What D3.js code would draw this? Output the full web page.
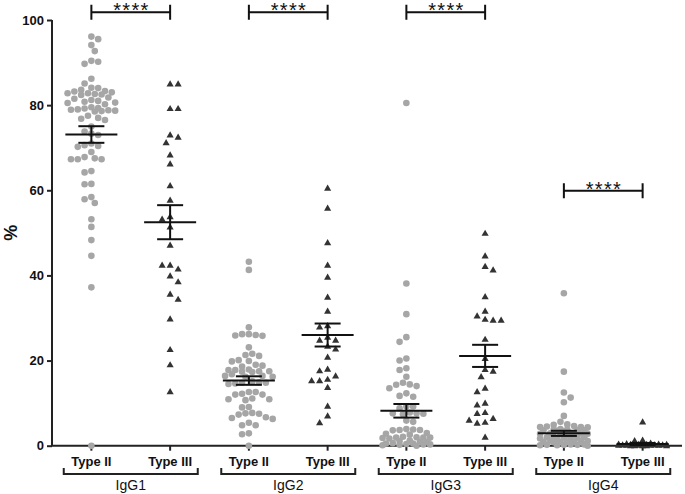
<!DOCTYPE html>
<html>
<head>
<meta charset="utf-8">
<script src="https://cdn.jsdelivr.net/npm/d3@7"></script>
<style>
body{margin:0;background:#fff;}
text{font-family:"Liberation Sans",Arial,sans-serif;}
</style>
</head>
<body>
<div id="chart"></div>
<script>
// groups, left to right
var subclasses = ["IgG1","IgG2","IgG3","IgG4"];
var types = ["Type II","Type III"];

var igg1TypeII = [96.1,95.5,94.1,92.7,90.4,90.2,89.7,86.2,85.1,
  84.0,83.6,83.3,83.0,82.8,82.6,82.5,82.4,82.8,83.2,84.1,
  81.5,81.0,80.8,80.5,81.8,80.2,81.2,80.6,
  79.5,79.2,79.0,78.8,78.6,78.9,78.5,79.3,78.7,
  77.5,77.0,76.8,76.5,75.0,73.8,73.3,73.0,
  71.0,70.6,70.4,70.2,69.0,67.8,67.5,67.3,67.3,67.3,
  64.5,64.2,61.5,61.4,58.4,57.9,57.0,53.2,51.4,48.3,44.6,37.2,0];
var igg1TypeIII = [85.0,85.0,79.2,79.2,73.0,72.5,71.2,68.3,66.2,61.1,57.7,53.8,53.2,
  51.4,47.1,42.4,42.4,41.5,39.9,38.5,35.6,34.4,29.8,22.6,19.0,12.7];
var igg2TypeII = [43.2,41.3,27.8,26.2,26.0,25.8,25.9,26.2,23.1,21.1,21.3,21.6,19.9,20.1,19.8,
  18.8,19.0,18.6,17.5,17.3,17.8,17.8,17.5,17.9,17.4,16.4,16.2,16.4,16.8,16.2,
  15.1,14.8,14.9,14.6,14.8,14.5,12.6,12.2,12.0,12.0,12.6,10.9,10.7,11.1,10.9,
  9.1,9.0,7.7,7.5,7.3,7.6,6.5,6.7,6.3,4.8,4.8,5.4,2.9,2.7,0];
var igg2TypeIII = [60.5,55.8,47.7,42.4,39.6,34.9,31.6,28.2,27.9,24.8,24.8,25.5,23.4,22.7,
  20.8,17.6,18.0,15.3,16.4,15.3,15.6,13.7,9.3,5.4,7.0];
var igg3TypeII = [80.5,38.1,30.9,25.5,24.4,20.5,20.0,18.2,17.8,16.2,14.8,14.3,13.5,14.0,14.4,
  11.5,11.7,12.3,9.2,8.8,9.2,7.6,7.6,7.4,7.8,7.5,5.6,5.9,3.7,3.8,3.6,3.7,3.9,
  2.8,2.6,3.0,1.9,2.0,1.8,1.9,2.1,1.7,1.9,1.2,1.0,0.9,1.1,
  0.4,0.3,0.5,0.6,0.2,0.1,0.0,0.5,0.3];
var igg3TypeIII = [49.9,44.6,42.1,41.3,35.0,30.5,29.5,29.5,29.7,31.6,25.0,20.5,17.9,17.5,16.2,
  13.5,12.7,10.0,9.6,7.8,7.6,6.4,5.5,5.3,6.0,2.0];
var igg4TypeII = [35.8,17.4,12.5,11.3,10.2,7.0,5.6,
  4.9,4.6,4.4,4.3,4.5,4.4,5.0,
  3.8,3.6,3.7,3.5,3.9,3.6,3.8,3.4,
  2.8,2.6,2.9,2.7,3.0,2.8,2.5,2.9,
  1.9,2.0,1.8,1.7,2.1,1.9,1.6,2.0,
  1.0,1.1,0.9,1.2,0.8,1.0,1.1,0.9,
  0.2,0.3,0.1,0.2,0.0,0.3,0.1,0.2];
var igg4TypeIII = [5.6,1.3,1.2,0.5,0.4,0.3,0.3,0.2,0.2,0.1,0.1,0.0,0.0,0.0,0.6,0.4,0.3,0.2,
  0.1,0.0,0.2,0.1,0.3,0.0,0.1,0.2];

var groupValues = [igg1TypeII,igg1TypeIII,igg2TypeII,igg2TypeIII,igg3TypeII,igg3TypeIII,igg4TypeII,igg4TypeIII];
// mean and SEM
var groupMeans = [73.1,52.5,15.3,26.0,8.2,21.1,2.9,0.4];
var groupSEM = [1.95,4.0,1.0,2.7,1.6,2.6,0.6,0.25];

var yTicks = [0,20,40,60,80,100];
// significance bars: subclass index, height (%), label
var sigSubclass = [0,1,2,3];
var sigLevels = [101.8,101.8,101.8,59.9];
var sigLabel = "****";

var W = 685, H = 494;
var svg = d3.select("#chart").append("svg").attr("width",W).attr("height",H);

var cats = [];
subclasses.forEach(function(s){ types.forEach(function(t){ cats.push(s+"|"+t); }); });

var x = d3.scaleBand().domain(cats).range([52,682]).padding(0);
var y = d3.scaleLinear().domain([0,100]).range([445.7,20]);

// y axis
var yAxis = svg.append("g").attr("transform","translate(52,0)")
  .call(d3.axisLeft(y).tickValues(yTicks).tickSize(5).tickPadding(3));
yAxis.select(".domain").attr("stroke","#222").attr("stroke-width",2).attr("d","M0,"+y(100)+"V"+y(0));
yAxis.selectAll(".tick line").attr("stroke","#222").attr("stroke-width",2);
yAxis.selectAll(".tick text").attr("font-size",13).attr("font-weight","bold").attr("fill","#111");

// x axis
var xAxis = svg.append("g").attr("transform","translate(0,"+y(0)+")")
  .call(d3.axisBottom(x).tickSize(5).tickFormat(""));
xAxis.select(".domain").attr("stroke","#222").attr("stroke-width",2).attr("d","M51,0H682");
xAxis.selectAll(".tick line").attr("stroke","#222").attr("stroke-width",2);

svg.selectAll("text.typelab").data(cats).enter().append("text")
  .attr("class","typelab")
  .attr("x",function(d){ return x(d)+x.bandwidth()/2; })
  .attr("y",466)
  .attr("text-anchor","middle").attr("font-size",13).attr("font-weight","bold").attr("fill","#111")
  .text(function(d){ return d.split("|")[1]; });

// brackets under each subclass
var brk = svg.selectAll("g.brk").data(subclasses).enter().append("g").attr("class","brk");
brk.append("path")
  .attr("d",function(s){
    var c = (x(s+"|Type II") + x(s+"|Type III") + x.bandwidth())/2;
    return "M"+(c-67)+",468V474H"+(c+67)+"V468";
  })
  .attr("fill","none").attr("stroke","#222").attr("stroke-width",2);
brk.append("text")
  .attr("x",function(s){ return (x(s+"|Type II") + x(s+"|Type III") + x.bandwidth())/2; })
  .attr("y",490)
  .attr("text-anchor","middle").attr("font-size",14).attr("fill","#111")
  .text(function(s){ return s; });

// y label
svg.append("text")
  .attr("transform","translate(17,"+y(50)+") rotate(-90)")
  .attr("text-anchor","middle").attr("font-size",18).attr("font-weight","bold").attr("fill","#111")
  .text("%");

// beeswarm for the scatter dots, capped width (overlap allowed when full)
function swarm(vals, cx, d){
  var step = d/2, maxOff = 26, pts = [];
  var sorted = vals.slice().sort(function(a,b){ return b-a; });
  sorted.forEach(function(v,i){
    var py = y(v), best = 0, bestScore = -1;
    for(var k=0;;k++){
      var off = Math.ceil(k/2)*step*(k%2==0?1:-1)*(i%2?-1:1);
      if(Math.abs(off) > maxOff) break;
      var md = Infinity;
      pts.forEach(function(p){ var dx=p.x-(cx+off), dy=p.y-py; md = Math.min(md, Math.sqrt(dx*dx+dy*dy)); });
      if(md >= d){ best = off; break; }
      if(md > bestScore){ bestScore = md; best = off; }
    }
    pts.push({x:cx+best,y:py,v:v});
  });
  return pts;
}

var tri = d3.symbol().type(d3.symbolTriangle).size(22);

groupValues.forEach(function(vals,gi){
  var cx = x(cats[gi]) + x.bandwidth()/2;
  if(gi%2==0){
    var pts = swarm(vals,cx,6.8);
    svg.append("g").selectAll("circle").data(pts).enter().append("circle")
      .attr("cx",function(d){ return d.x; }).attr("cy",function(d){ return d.y; })
      .attr("r",3.3).attr("fill","#a6a6a6");
  } else {
    var pts = swarm(vals,cx,8);
    svg.append("g").selectAll("path").data(pts).enter().append("path")
      .attr("d",tri)
      .attr("transform",function(d){ return "translate("+d.x+","+(d.y+0.5)+")"; })
      .attr("fill","#333");
  }
});

// mean +- SEM
var ms = svg.append("g").attr("stroke","#111").attr("stroke-width",2).attr("fill","none");
groupMeans.forEach(function(m,gi){
  var cx = x(cats[gi]) + x.bandwidth()/2, s = groupSEM[gi];
  ms.append("line").attr("x1",cx-26).attr("x2",cx+26).attr("y1",y(m)).attr("y2",y(m));
  ms.append("line").attr("x1",cx).attr("x2",cx).attr("y1",y(m+s)).attr("y2",y(m-s));
  ms.append("line").attr("x1",cx-13).attr("x2",cx+13).attr("y1",y(m+s)).attr("y2",y(m+s));
  ms.append("line").attr("x1",cx-13).attr("x2",cx+13).attr("y1",y(m-s)).attr("y2",y(m-s));
});

// significance bars
sigSubclass.forEach(function(si,i){
  var s = subclasses[si];
  var x1 = x(s+"|Type II")+x.bandwidth()/2, x2 = x(s+"|Type III")+x.bandwidth()/2;
  var yy = y(sigLevels[i]);
  svg.append("path")
    .attr("d","M"+x1+","+(yy-7.5)+"V"+(yy+7.5)+"M"+x1+","+yy+"H"+x2+"M"+x2+","+(yy-7.5)+"V"+(yy+7.5))
    .attr("fill","none").attr("stroke","#111").attr("stroke-width",2);
  svg.append("text").attr("x",(x1+x2)/2 + 0.65).attr("y",yy+5)
    .attr("text-anchor","middle").attr("font-size",20).attr("letter-spacing",1.3).attr("fill","#111")
    .text(sigLabel);
});
</script>
</body>
</html>
